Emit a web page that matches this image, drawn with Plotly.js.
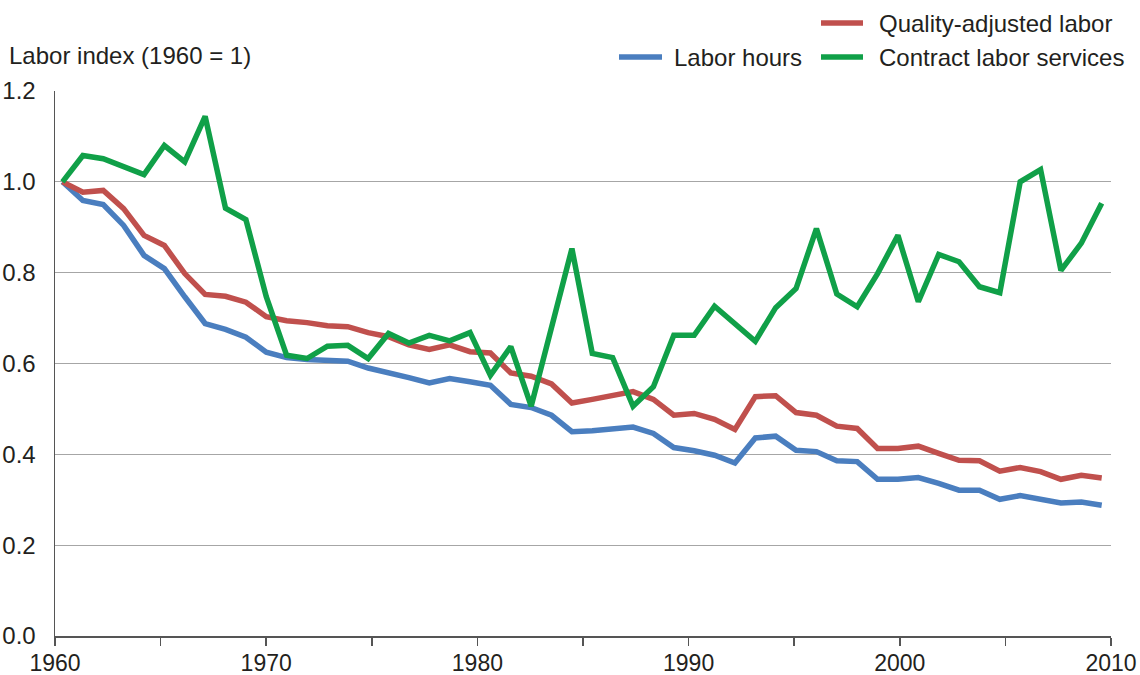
<!DOCTYPE html>
<html>
<head>
<meta charset="utf-8">
<script src="https://cdn.plot.ly/plotly-3.0.1.min.js"></script>
<style>
  html, body { margin: 0; padding: 0; background: #ffffff; }
  #chart { width: 1140px; height: 675px; }
</style>
</head>
<body>
<div id="chart"></div>
<script>
// ---- Data ----
const years = [1960, 1961, 1962, 1963, 1964, 1965, 1966, 1967, 1968, 1969,
               1970, 1971, 1972, 1973, 1974, 1975, 1976, 1977, 1978, 1979,
               1980, 1981, 1982, 1983, 1984, 1985, 1986, 1987, 1988, 1989,
               1990, 1991, 1992, 1993, 1994, 1995, 1996, 1997, 1998, 1999,
               2000, 2001, 2002, 2003, 2004, 2005, 2006, 2007, 2008, 2009,
               2010, 2011];

const laborHours = [1.000, 0.959, 0.950, 0.904, 0.838, 0.809, 0.747, 0.688, 0.675, 0.658,
                    0.625, 0.613, 0.609, 0.606, 0.605, 0.590, 0.581, 0.569, 0.557, 0.567,
                    0.560, 0.552, 0.510, 0.503, 0.486, 0.450, 0.452, 0.455, 0.460, 0.446,
                    0.415, 0.408, 0.398, 0.381, 0.436, 0.440, 0.409, 0.406, 0.386, 0.384,
                    0.345, 0.345, 0.349, 0.336, 0.321, 0.321, 0.301, 0.309, 0.301, 0.293,
                    0.295, 0.288];

const qualityAdjusted = [1.000, 0.977, 0.981, 0.941, 0.882, 0.860, 0.798, 0.752, 0.748, 0.735,
                         0.703, 0.694, 0.690, 0.683, 0.681, 0.668, 0.659, 0.641, 0.631, 0.641,
                         0.626, 0.623, 0.579, 0.572, 0.555, 0.513, 0.521, 0.530, 0.538, 0.521,
                         0.486, 0.490, 0.477, 0.455, 0.527, 0.529, 0.492, 0.486, 0.462, 0.457,
                         0.413, 0.413, 0.418, 0.402, 0.387, 0.386, 0.363, 0.371, 0.362, 0.345,
                         0.354, 0.348];

const contractServices = [1.000, 1.058, 1.051, 1.034, 1.016, 1.080, 1.044, 1.144, 0.942, 0.917,
                          0.747, 0.618, 0.611, 0.638, 0.640, 0.611, 0.666, 0.645, 0.662, 0.650,
                          0.668, 0.574, 0.637, 0.506, 0.675, 0.853, 0.622, 0.613, 0.506, 0.549,
                          0.662, 0.662, 0.726, 0.686, 0.649, 0.723, 0.765, 0.897, 0.753, 0.725,
                          0.798, 0.882, 0.736, 0.840, 0.824, 0.769, 0.756, 1.000, 1.027, 0.805,
                          0.865, 0.953];

const axisLabels = ['1960', '', '1970', '', '1980', '', '1990', '', '2000', '', '2010'];

const seriesNames = ['Labor hours', 'Quality-adjusted labor', 'Contract labor services'];
const seriesColors = ['#4a7ebf', '#c0504d', '#10a048'];

// ---- Layout geometry ----
const W = 1140, H = 675;
const M = { l: 55, r: 29, t: 91, b: 39 };
const plotW = W - M.l - M.r, plotH = H - M.t - M.b;
const xRange = [1959.632, 2011.456];

// horizontal axis labels are evenly spread across the plot width
const tickVals = axisLabels.map((_, i) => xRange[0] + i * (xRange[1] - xRange[0]) / (axisLabels.length - 1));

const px = (x) => (x - M.l) / plotW;
const py = (y) => (H - M.b - y) / plotH;

const FONT = 'Liberation Sans, Arial, Helvetica, sans-serif';
const TXT = '#231f20';
const FS = 24;

const traces = [
  { x: years, y: laborHours, name: seriesNames[0], type: 'scatter', mode: 'lines',
    line: { color: seriesColors[0], width: 5.5 }, hoverinfo: 'skip' },
  { x: years, y: qualityAdjusted, name: seriesNames[1], type: 'scatter', mode: 'lines',
    line: { color: seriesColors[1], width: 5.5 }, hoverinfo: 'skip' },
  { x: years, y: contractServices, name: seriesNames[2], type: 'scatter', mode: 'lines',
    line: { color: seriesColors[2], width: 5.5 }, hoverinfo: 'skip' }
];

// manual legend (two rows, right aligned as in the reference)
const legendItems = [
  { name: seriesNames[1], color: seriesColors[1], x0: 821, x1: 863, tx: 877, y: 23 },
  { name: seriesNames[0], color: seriesColors[0], x0: 619, x1: 662, tx: 672, y: 57 },
  { name: seriesNames[2], color: seriesColors[2], x0: 821, x1: 863, tx: 877, y: 57 }
];

const shapes = legendItems.map(it => ({
  type: 'line', xref: 'paper', yref: 'paper',
  x0: px(it.x0), x1: px(it.x1), y0: py(it.y), y1: py(it.y),
  line: { color: it.color, width: 5.5 }
}));

const annotations = legendItems.map(it => ({
  xref: 'paper', yref: 'paper', x: px(it.tx), y: py(it.y),
  xanchor: 'left', yanchor: 'middle', showarrow: false,
  text: it.name, font: { family: FONT, size: FS, color: TXT }
}));

annotations.push({
  xref: 'paper', yref: 'paper', x: px(7), y: py(56),
  xanchor: 'left', yanchor: 'middle', showarrow: false,
  text: 'Labor index (1960 = 1)', font: { family: FONT, size: FS, color: TXT }
});

const layout = {
  width: W, height: H,
  margin: M,
  paper_bgcolor: '#ffffff', plot_bgcolor: '#ffffff',
  showlegend: false,
  font: { family: FONT, size: FS, color: TXT },
  xaxis: {
    type: 'linear', range: xRange, fixedrange: true,
    tickmode: 'array', tickvals: tickVals, ticktext: axisLabels,
    showgrid: false, zeroline: false,
    showline: true, linecolor: '#555555', linewidth: 2,
    ticks: 'outside', ticklen: 8, tickwidth: 1.5, tickcolor: '#555555',
    ticklabelstandoff: -3,
    tickfont: { family: FONT, size: 23, color: TXT }
  },
  yaxis: {
    range: [0, 1.2], dtick: 0.2, tick0: 0, tickformat: '.1f', fixedrange: true,
    showgrid: true, gridcolor: '#a6a6a6', gridwidth: 1,
    zeroline: false,
    showline: true, linecolor: '#555555', linewidth: 1.5,
    ticks: '', ticklabelstandoff: 13,
    tickfont: { family: FONT, size: FS, color: TXT }
  },
  shapes: shapes,
  annotations: annotations
};

Plotly.newPlot('chart', traces, layout, { displayModeBar: false, staticPlot: true });
</script>
</body>
</html>
